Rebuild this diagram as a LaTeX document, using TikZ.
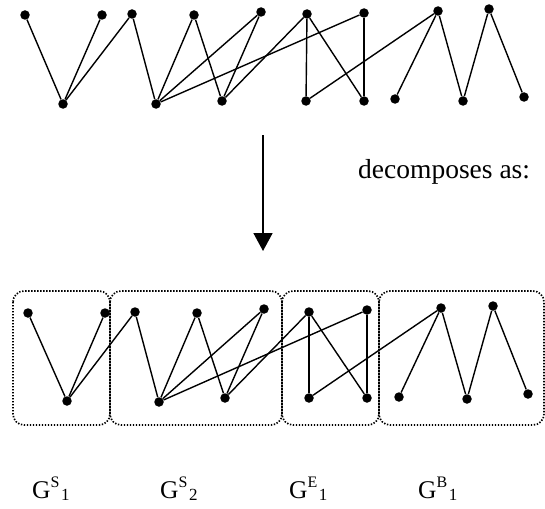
\documentclass[tikz,border=0pt]{standalone}
\usepackage{fontspec}
\setmainfont{Liberation Serif}
\usetikzlibrary{arrows.meta}
\newcommand{\glab}[3]{G\raisebox{10.5pt}{\fontsize{16}{16}\selectfont #1}\hspace{1.5pt}\raisebox{-2.5pt}{\fontsize{17}{17}\selectfont #2}}
\begin{document}
\begin{tikzpicture}[x=1pt,y=-1pt,
  dot/.style={circle,fill=black,draw=none,inner sep=0pt,minimum size=9.5pt},
  edge/.style={line width=1.4pt},
  grp/.style={line width=1.7pt,dash pattern=on 1.4pt off 1.6pt,rounded corners=11pt},
  lab/.style={anchor=base west,inner sep=0pt,font=\fontsize{25.5}{30}\selectfont}]
\useasboundingbox (0,0) rectangle (545,508);
% top graph
\node[dot] (a1) at (25,15) {};
\node[dot] (a2) at (102,15) {};
\node[dot] (a3) at (132,14) {};
\node[dot] (a4) at (194,15) {};
\node[dot] (a5) at (261,12) {};
\node[dot] (a6) at (307,14) {};
\node[dot] (a7) at (364,13) {};
\node[dot] (a8) at (438,11) {};
\node[dot] (a9) at (489,9) {};
\node[dot] (b1) at (63,104) {};
\node[dot] (b2) at (156,104) {};
\node[dot] (b3) at (222,101) {};
\node[dot] (b4) at (306,101) {};
\node[dot] (b5) at (364,101) {};
\node[dot] (b6) at (395,99) {};
\node[dot] (b7) at (463,101) {};
\node[dot] (b8) at (524,97) {};
\foreach \u/\v in {a1/b1,a2/b1,a3/b1,a3/b2,a4/b2,a4/b3,a5/b2,a5/b3,b2/a7,b3/a6,a6/b4,a6/b5,a7/b5,b4/a8,a8/b6,a8/b7,b7/a9,a9/b8}
  \draw[edge] (\u) -- (\v);
% arrow
\coordinate (ar1) at (263,135);
\coordinate (ar2) at (263,251);
\draw[line width=1.7pt,-{Triangle[length=18pt,width=19pt]}] (ar1) -- (ar2);
\node[anchor=base west,inner sep=0pt,font=\fontsize{27.5}{32}\selectfont] (dec) at (358,178) {decomposes as:};
% groups
\draw[grp] (13,291) rectangle (110,425);
\draw[grp] (110,291) rectangle (282,425);
\draw[grp] (282,291) rectangle (379,425);
\draw[grp] (379,291) rectangle (544,425);
% bottom graph
\node[dot] (c1) at (28,313) {};
\node[dot] (c2) at (105,313) {};
\node[dot] (c3) at (135,312) {};
\node[dot] (c4) at (197,313) {};
\node[dot] (c5) at (264,309) {};
\node[dot] (c6) at (309,312) {};
\node[dot] (c7) at (367,310) {};
\node[dot] (c8) at (441,308) {};
\node[dot] (c9) at (493,306) {};
\node[dot] (d1) at (67,401) {};
\node[dot] (d2) at (159,402) {};
\node[dot] (d3) at (225,398) {};
\node[dot] (d4) at (309,398) {};
\node[dot] (d5) at (367,398) {};
\node[dot] (d6) at (399,397) {};
\node[dot] (d7) at (467,399) {};
\node[dot] (d8) at (528,394) {};
\foreach \u/\v in {c1/d1,c2/d1,c3/d1,c3/d2,c4/d2,c4/d3,c5/d2,c5/d3,d2/c7,d3/c6,c6/d4,c6/d5,c7/d5,d4/c8,c8/d6,c8/d7,d7/c9,c9/d8}
  \draw[edge] (\u) -- (\v);
% labels
\node[lab] (g1) at (32,498) {\glab{S}{1}{}};
\node[lab] (g2) at (160,498) {\glab{S}{2}{}};
\node[lab] (g3) at (289,498) {\glab{E}{1}{}};
\node[lab] (g4) at (418,498) {\glab{B}{1}{}};
\end{tikzpicture}
\end{document}
